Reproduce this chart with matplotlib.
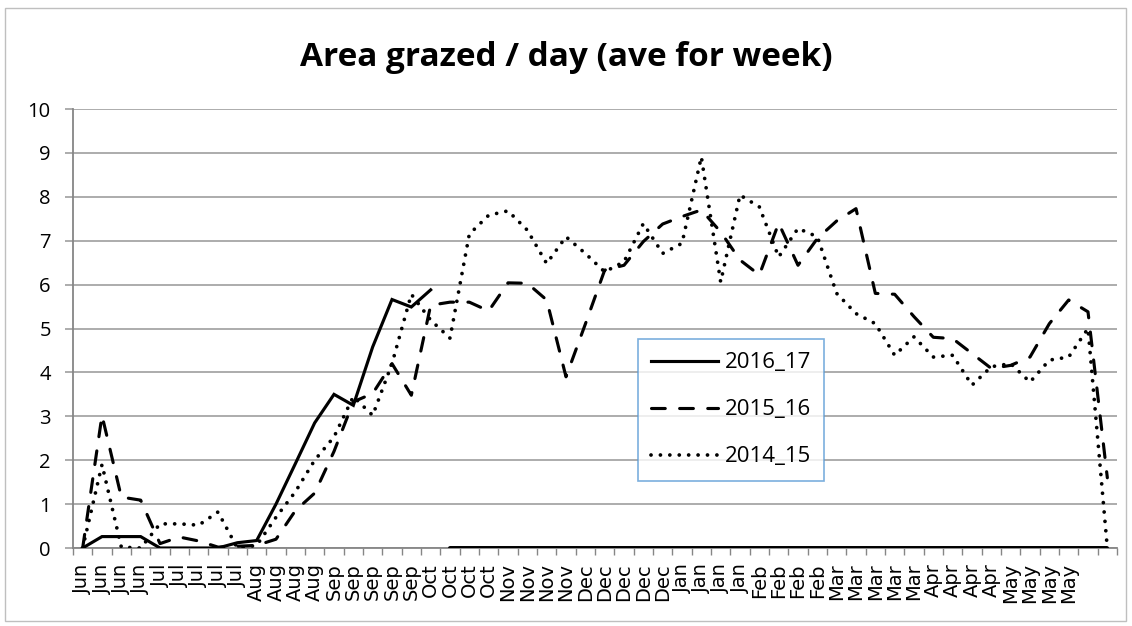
import numpy as np
import matplotlib
matplotlib.use("Agg")
import matplotlib.pyplot as plt
from matplotlib.patches import Rectangle

plt.rcParams['font.family'] = ['Open Sans', 'DejaVu Sans']

# weekly category labels (last two weeks have no label)
week_labels = (["Jun"] * 4 + ["Jul"] * 5 + ["Aug"] * 4 + ["Sep"] * 5 + ["Oct"] * 4
               + ["Nov"] * 4 + ["Dec"] * 5 + ["Jan"] * 4 + ["Feb"] * 4 + ["Mar"] * 5
               + ["Apr"] * 4 + ["May"] * 4 + ["", ""])

# area grazed / day, weekly averages
s2016_17 = [0, 0.26, 0.26, 0.26, 0, 0, 0, 0, 0.12, 0.17,
            1.0, 1.92, 2.85, 3.5, 3.25, 4.58, 5.66, 5.49, 5.88,
            0, 0, 0, 0, 0, 0, 0, 0, 0, 0, 0, 0, 0, 0, 0, 0, 0, 0,
            0, 0, 0, 0, 0, 0, 0, 0, 0, 0, 0, 0, 0, 0, 0, 0, 0]
s2016_17_last = 18   # last week with a reading before the zero run

s2015_16 = [0, 3.02, 1.16, 1.09, 0.1, 0.25, 0.16, 0.02, 0.04, 0.06,
            0.2, 0.85, 1.25, 2.2, 3.33, 3.52, 4.2, 3.48, 5.53, 5.6,
            5.6, 5.4, 6.04, 6.03, 5.65, 3.9, 5.1, 6.33, 6.44, 6.98,
            7.38, 7.55, 7.7, 7.2, 6.56, 6.22, 7.4, 6.44, 7.05, 7.45,
            7.73, 5.8, 5.78, 5.27, 4.8, 4.77, 4.43, 4.09, 4.16, 4.35,
            5.11, 5.65, 5.38, 1.6]

s2014_15 = [0, 1.9, 0.02, 0, 0.55, 0.55, 0.52, 0.82, 0, 0.06,
            0.7, 1.28, 2.0, 2.53, 3.45, 3.02, 4.2, 5.78, 5.19, 4.78,
            7.15, 7.58, 7.68, 7.24, 6.48, 7.09, 6.71, 6.29, 6.52, 7.39,
            6.71, 6.94, 8.91, 6.06, 8.04, 7.77, 6.63, 7.28, 7.09, 5.8,
            5.34, 5.11, 4.39, 4.81, 4.35, 4.39, 3.71, 4.13, 4.2, 3.78,
            4.28, 4.35, 5.0, 0]

x = np.arange(len(week_labels))
grid_col = "#A6A6A6"
axis_col = "#868686"

fig = plt.figure(figsize=(11.32, 6.26), dpi=100)
ax = fig.add_axes([73 / 1132, 1 - 548 / 626, (1117 - 73) / 1132, (548 - 109) / 626])

lw = 2.25
cut = s2016_17_last + 1
ax.plot(x[:cut], s2016_17[:cut], color="black", lw=lw, solid_joinstyle="miter",
        label="2016_17", zorder=5)
ax.plot(x[cut:], s2016_17[cut:], color="black", lw=lw + 0.6, zorder=5,
        solid_capstyle="round")
ax.plot(x, s2015_16, color="black", lw=lw, linestyle=(0, (4.4, 4.6)),
        dash_capstyle="round", label="2015_16", zorder=4)
ax.plot(x, s2014_15, color="black", lw=2.7, linestyle=(0, (0.01, 2.5)),
        dash_capstyle="round", label="2014_15", zorder=3)

ax.set_xlim(-0.5, len(x) - 0.5)
ax.set_ylim(0, 10)
ax.set_yticks(range(0, 11))
ax.yaxis.grid(True, color=grid_col, lw=1.3)
ax.set_axisbelow(True)

ax.set_xticks(x)
ax.set_xticklabels(week_labels, rotation=90, fontsize=14, family="DejaVu Sans")
ax.set_xticks(np.arange(-0.5, len(x), 1), minor=True)
ax.tick_params(axis="x", which="major", length=0, pad=11)
ax.tick_params(axis="x", which="minor", length=5, color=axis_col, width=1)
ax.tick_params(axis="y", length=6, color=grid_col, width=1.3, pad=10, labelsize=14.5)

for side in ["top", "right"]:
    ax.spines[side].set_visible(False)
ax.spines["left"].set_color(axis_col)
ax.spines["bottom"].set_color(axis_col)
ax.spines["left"].set_linewidth(1.3)
ax.spines["bottom"].set_linewidth(1.3)

leg = ax.legend(loc="upper left", bbox_to_anchor=((638 - 73) / 1044, (548 - 339) / 439),
                fontsize=16, frameon=True, fancybox=False, handlelength=3.0,
                handletextpad=0.3, labelspacing=1.17, borderpad=0.6,
                borderaxespad=0)
leg.get_frame().set_edgecolor("#5B9BD5")
leg.get_frame().set_linewidth(1.2)

fig.text(0.5, 1 - 57 / 626, "Area grazed / day (ave for week)", ha="center",
         va="center", fontsize=24, fontweight="bold")

fig.patches.append(Rectangle((5 / 1132, 1 - 621 / 626), 1121 / 1132, 613 / 626,
                             transform=fig.transFigure, fill=False,
                             edgecolor="#BFBFBF", lw=1))

fig.savefig("out.png", dpi=100)
